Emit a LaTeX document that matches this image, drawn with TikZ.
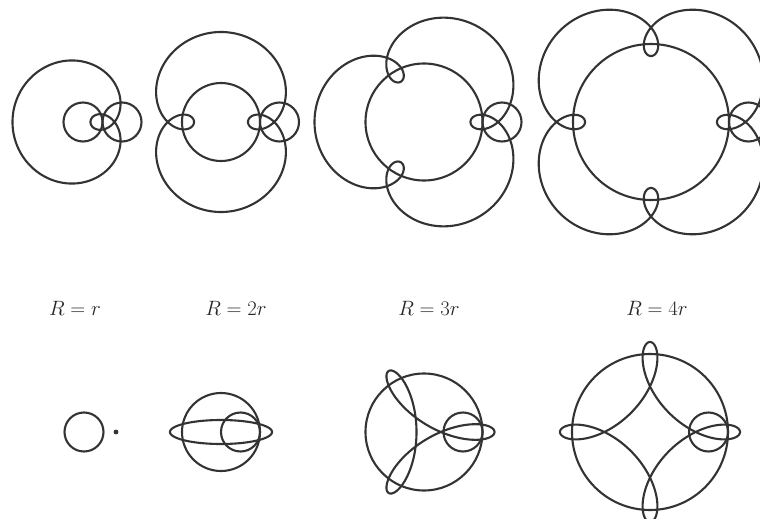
\documentclass[tikz,border=0pt]{standalone}
\begin{document}
\begin{tikzpicture}[x=1pt,y=-1pt,
  curve/.style={line width=2.1pt,draw=black!80,line join=round},
  lbl/.style={font=\fontsize{21}{25}\selectfont,text=black!85,inner sep=0pt}]
\def\rr{19.5}
\def\dd{31.5}
\newcommand{\epicurve}[3]{%
  \draw[curve] plot[variable=\t,domain=0:360,samples=721]
    ({#1+(#3+1)*\rr*cos(\t)-\dd*cos((#3+1)*\t)},{#2+(#3+1)*\rr*sin(\t)-\dd*sin((#3+1)*\t)});
  \draw[curve] (#1,#2) circle[radius=#3*\rr];
  \draw[curve] ({#1+(#3+1)*\rr},#2) circle[radius=\rr];
}
\newcommand{\hypocurve}[3]{%
  \draw[curve] plot[variable=\t,domain=0:360,samples=721]
    ({#1+(#3-1)*\rr*cos(\t)+\dd*cos((#3-1)*\t)},{#2+(#3-1)*\rr*sin(\t)-\dd*sin((#3-1)*\t)});
  \draw[curve] (#1,#2) circle[radius=#3*\rr];
  \draw[curve] ({#1+(#3-1)*\rr},#2) circle[radius=\rr];
}
\useasboundingbox (0,0) rectangle (760,519);
\clip (0,0) rectangle (760,519);
% top row: epitrochoids
\epicurve{83}{122}{1}
\epicurve{221}{122}{2}
\epicurve{424}{122}{3}
\epicurve{651}{122}{4}
% labels
\node[lbl] (l1) at (75,308) {$R=r$};
\node[lbl] (l2) at (236,308) {$R=2r$};
\node[lbl] (l3) at (429,308) {$R=3r$};
\node[lbl] (l4) at (657,308) {$R=4r$};
% bottom row: hypotrochoids
\draw[curve] (84,432) circle[radius=\rr];
\fill[black!80] (116,432) circle[radius=2.4];
\hypocurve{221}{432}{2}
\hypocurve{424}{432}{3}
\hypocurve{650}{432}{4}
\end{tikzpicture}
\end{document}
